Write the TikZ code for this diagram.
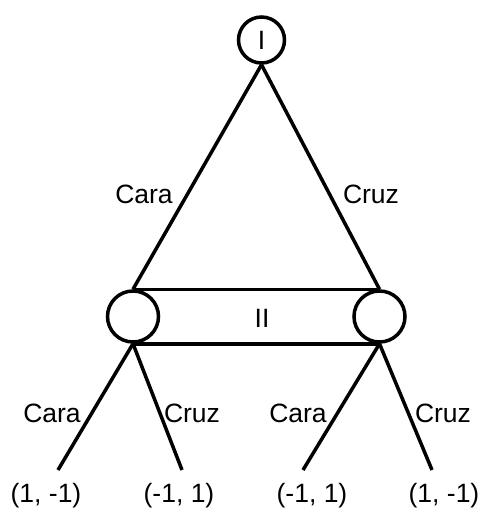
\documentclass[tikz,border=0pt]{standalone}
\usepackage{fontspec}
\setmainfont{Liberation Sans}
\begin{document}
\begin{tikzpicture}[x=1pt,y=-1pt,
  every node/.style={font=\fontsize{26.5}{31}\selectfont, inner sep=0pt},
  dec/.style={circle, draw, line width=3.5pt, minimum size=51pt},
  edge/.style={line width=3.5pt},
  lbl/.style={anchor=center}]
\useasboundingbox (0,0) rectangle (480,511);
% decision nodes
\node[dec, minimum size=46pt] (I) at (261.5,40) {I};
\node[dec] (L) at (133,316.5) {};
\node[dec] (R) at (379.5,316.5) {};
\node[lbl] (II) at (262,318) {II};
% information set
\draw[edge] (L.north) -- (R.north);
\draw[edge] (L.south) -- (R.south);
% first stage
\draw[edge] (I.south) -- (L.north);
\draw[edge] (I.south) -- (R.north);
\node[lbl] (c1) at (144,194) {Cara};
\node[lbl] (z1) at (371,194) {Cruz};
% leaves
\coordinate (a) at (58,470);
\coordinate (b) at (182,470);
\coordinate (c) at (303,470);
\coordinate (d) at (432,470);
\draw[edge] (L.south) -- (a);
\draw[edge] (L.south) -- (b);
\draw[edge] (R.south) -- (c);
\draw[edge] (R.south) -- (d);
\node[lbl] (c2) at (52,413) {Cara};
\node[lbl] (z2) at (192,413) {Cruz};
\node[lbl] (c3) at (298,413) {Cara};
\node[lbl] (z3) at (443,413) {Cruz};
% payoffs
\node[lbl] (pa) at (46,496) {(1, -1)};
\node[lbl] (pb) at (179,496) {(-1, 1)};
\node[lbl] (pc) at (312,496) {(-1, 1)};
\node[lbl] (pd) at (444,496) {(1, -1)};
\end{tikzpicture}
\end{document}
